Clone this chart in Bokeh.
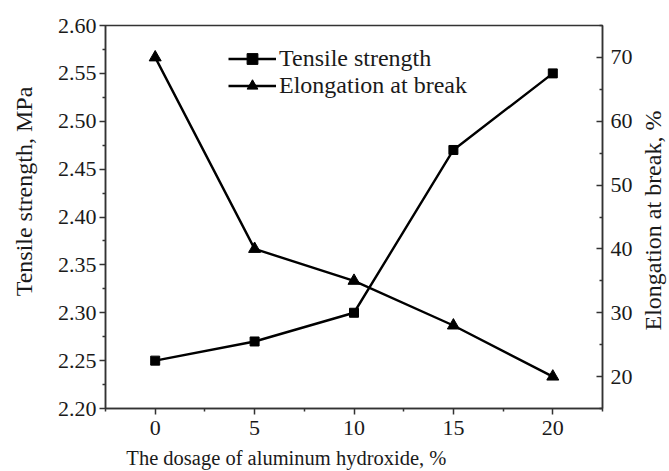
import math
from bokeh.plotting import figure
from bokeh.models import (LinearAxis, Range1d, FixedTicker, Legend, LegendItem,
                          PrintfTickFormatter, Label)
from bokeh.embed import file_html
from bokeh.resources import INLINE

# ---- data ----
dosage = [0, 5, 10, 15, 20]
tensile = [2.25, 2.27, 2.30, 2.47, 2.55]
elongation = [70, 40, 35, 28, 20]

x_ticks = [0, 5, 10, 15, 20]
x_minor = [-2.5, 2.5, 7.5, 12.5, 17.5, 22.5]
left_ticks = [2.20, 2.25, 2.30, 2.35, 2.40, 2.45, 2.50, 2.55, 2.60]
left_minor = [2.225, 2.275, 2.325, 2.375, 2.425, 2.475, 2.525, 2.575]
right_ticks = [20, 30, 40, 50, 60, 70]
right_minor = [15, 25, 35, 45, 55, 65, 75]

x_title = "The dosage of aluminum hydroxide, %"
left_title = "Tensile strength, MPa"
right_title = "Elongation at break, %"

FONT = "Liberation Serif"
TXT = "#1a1a1a"
AX = "#333333"

p = figure(frame_width=497, frame_height=383,
           x_range=Range1d(-2.5, 22.5), y_range=Range1d(2.20, 2.60),
           output_backend="svg", toolbar_location=None,
           min_border_left=105, min_border_top=25, min_border_bottom=63,
           min_border_right=67)
p.extra_y_ranges = {"el": Range1d(15, 75)}

p.grid.visible = False
p.outline_line_color = AX
p.outline_line_width = 1.5

xa = p.xaxis[0]
xa.ticker = FixedTicker(ticks=x_ticks, minor_ticks=x_minor)

ya = p.yaxis[0]
ya.ticker = FixedTicker(ticks=left_ticks, minor_ticks=left_minor)
ya.formatter = PrintfTickFormatter(format="%.2f")

ra = LinearAxis(y_range_name="el")
ra.ticker = FixedTicker(ticks=right_ticks, minor_ticks=right_minor)
p.add_layout(ra, "right")

for ax in (xa, ya, ra):
    ax.axis_line_color = AX
    ax.axis_line_width = 1.5
    ax.major_tick_line_color = AX
    ax.minor_tick_line_color = AX
    ax.major_tick_line_width = 1.5
    ax.minor_tick_line_width = 1.5
    ax.major_label_text_font = FONT
    ax.major_label_text_font_size = "22px"
    ax.major_label_text_color = TXT

for ax in (xa, ya):
    ax.major_tick_out = 6
    ax.major_tick_in = 0
    ax.minor_tick_out = 3
    ax.minor_tick_in = 0
ra.major_tick_in = 6
ra.major_tick_out = 0
ra.minor_tick_in = 3
ra.minor_tick_out = 0

xa.major_label_standoff = 6
ya.major_label_standoff = 3
ra.major_label_standoff = 8

# axis titles: labels placed in the side panels (positions in main-range data units)
p.add_layout(Label(x=-1.45, y=2.1478, text=x_title, text_font=FONT,
                   text_font_size="20.5px", text_color=TXT,
                   text_align="left", text_baseline="middle"), "below")
p.add_layout(Label(x=-6.62, y=2.4266, text=left_title, text_font=FONT,
                   text_font_size="24px", text_color=TXT, angle=90,
                   angle_units="deg", text_align="center",
                   text_baseline="middle"), "left")
p.add_layout(Label(x=25.05, y=2.3963, text=right_title, text_font=FONT,
                   text_font_size="24px", text_color=TXT, angle=90,
                   angle_units="deg", text_align="center",
                   text_baseline="middle"), "right")

# series
l1 = p.line(dosage, tensile, line_color="black", line_width=2.4)
s1 = p.scatter(dosage, tensile, marker="square", size=9, color="black")
l2 = p.line(dosage, elongation, line_color="black", line_width=2.4, y_range_name="el")
s2 = p.scatter(dosage, elongation, marker="triangle", size=12, color="black",
               y_range_name="el")

legend = Legend(items=[LegendItem(label="Tensile strength", renderers=[l1, s1]),
                       LegendItem(label="Elongation at break", renderers=[l2, s2])],
                location=(123, 309), orientation="vertical",
                glyph_width=48, glyph_height=27, label_height=27,
                label_standoff=3, spacing=0, padding=0, margin=0,
                border_line_color=None, background_fill_alpha=0,
                label_text_font=FONT, label_text_font_size="24px",
                label_text_color=TXT)
p.add_layout(legend, "center")

open("out.html", "w").write(file_html(p, INLINE))
